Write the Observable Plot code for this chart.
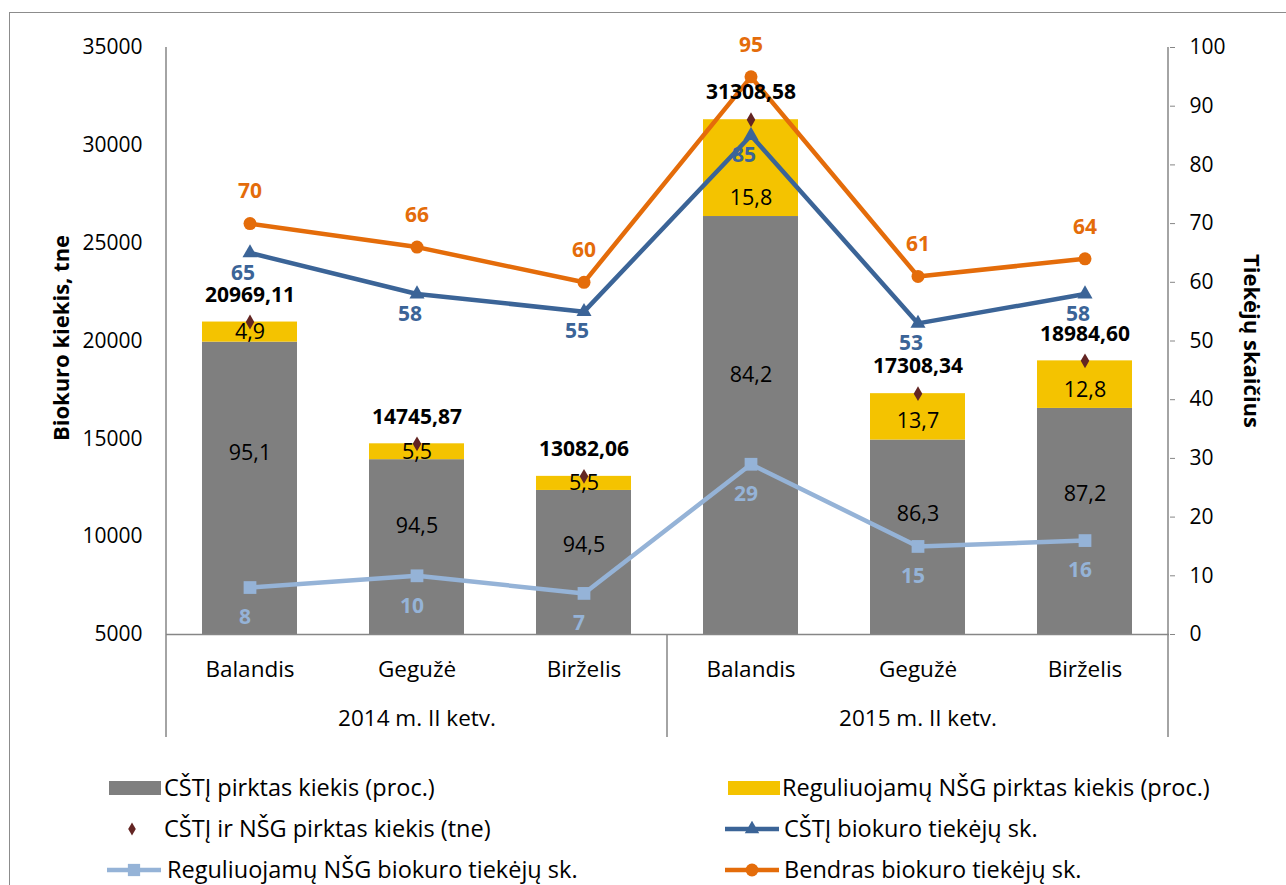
<!DOCTYPE html>
<html><head><meta charset="utf-8">
<script src="https://cdn.jsdelivr.net/npm/d3@7"></script>
<script src="https://cdn.jsdelivr.net/npm/@observablehq/plot@0.6"></script>
<style>
body{margin:0;background:#fff;overflow:hidden;font-family:"Open Sans",sans-serif;width:1286px;height:885px;}
#frame{position:absolute;left:9px;top:12px;width:1320px;height:920px;border:1.5px solid #8c8c8c;box-sizing:border-box;}
#chart{position:absolute;left:0;top:0;}
.lg{position:absolute;font-family:"Open Sans",sans-serif;font-size:23.5px;color:#000;white-space:nowrap;transform:translateY(-50%);line-height:1;}
.sw{position:absolute;transform:translateY(-50%);}
</style></head><body>
<div id="frame"></div><div id="chart"></div><div id="legend"></div>
<script>
// ---- data ----
const periods = ["2014","2014","2014","2015","2015","2015"];
const monthNames = ["Balandis","Gegužė","Birželis","Balandis","Gegužė","Birželis"];
const groupLabels = ["2014 m. II ketv.","2015 m. II ketv."];
const totalTne = [20969.11, 14745.87, 13082.06, 31308.58, 17308.34, 18984.60];
const cstiPct = [95.1, 94.5, 94.5, 84.2, 86.3, 87.2];
const nsgPct = [4.9, 5.5, 5.5, 15.8, 13.7, 12.8];
const cstiSuppliers = [65, 58, 55, 85, 53, 58];
const nsgSuppliers = [8, 10, 7, 29, 15, 16];
const totalSuppliers = [70, 66, 60, 95, 61, 64];
const leftTicks = [5000, 10000, 15000, 20000, 25000, 30000, 35000];
const rightTicks = [0, 10, 20, 30, 40, 50, 60, 70, 80, 90, 100];
const leftTitle = "Biokuro kiekis, tne";
const rightTitle = "Tiekėjų skaičius";
const legendLabels = ["CŠTĮ pirktas kiekis (proc.)","Reguliuojamų NŠG pirktas kiekis (proc.)","CŠTĮ ir NŠG pirktas kiekis (tne)","CŠTĮ biokuro tiekėjų sk.","Reguliuojamų NŠG biokuro tiekėjų sk.","Bendras biokuro tiekėjų sk."];

// ---- colours ----
const cGray = "#7f7f7f", cYellow = "#f4c300", cDiamond = "#632523",
      cBlue = "#3b6497", cLight = "#95b3d7", cOrange = "#e46c0a", cAxis = "#868686";

const keys = periods.map((p, i) => p + "|" + monthNames[i]);
const right = d3.scaleLinear().domain([0, 100]).range([5000, 35000]); // right axis → left units
const base = 5000;
const rows = keys.map((k, i) => ({
  key: k, month: monthNames[i], total: totalTne[i],
  gTop: totalTne[i] * cstiPct[i] / 100, cPct: cstiPct[i], nPct: nsgPct[i],
  cSup: cstiSuppliers[i], nSup: nsgSuppliers[i], tSup: totalSuppliers[i]
}));
const comma = (v, n) => v.toFixed(n).replace(".", ",");
const groups = groupLabels.map((g, i) => ({key: keys[i * 3 + 1], label: g}));

const chart = Plot.plot({
  width: 1286, height: 760,
  marginLeft: 166, marginRight: 117, marginTop: 47, marginBottom: 126,
  x: {type: "band", domain: keys, paddingInner: 0.43, paddingOuter: 0.215, axis: null},
  y: {domain: [5000, 35000], axis: null},
  style: {fontFamily: "'Open Sans', sans-serif", fontSize: "21px", background: "transparent", overflow: "visible"},
  marks: [
    Plot.barY(rows, {x: "key", y1: d => base, y2: "gTop", fill: cGray}),
    Plot.barY(rows, {x: "key", y1: "gTop", y2: "total", fill: cYellow}),
    Plot.ruleY([base], {stroke: cAxis, strokeWidth: 1.5}),
    Plot.axisY(leftTicks, {anchor: "left", tickSize: 0, tickPadding: 24, fontSize: 21, label: null, tickFormat: d => String(d)}),
    Plot.axisY(rightTicks.map(right), {anchor: "right", tickSize: 5, tickPadding: 15, fontSize: 21, stroke: cAxis,
      tickFormat: d => String(Math.round(right.invert(d))), label: null}),
    Plot.text([leftTitle], {frameAnchor: "left", textAnchor: "middle", lineAnchor: "middle", rotate: -90, dx: -105, dy: -3, fontWeight: "bold", fontSize: 22}),
    Plot.text([rightTitle], {frameAnchor: "right", textAnchor: "middle", lineAnchor: "middle", rotate: 90, dx: 82, fontWeight: "bold", fontSize: 22}),
    Plot.text(rows, {x: "key", text: "month", frameAnchor: "bottom", lineAnchor: "middle", dy: 35, fontSize: 22.5}),
    Plot.text(groups, {x: "key", text: "label", frameAnchor: "bottom", lineAnchor: "middle", dy: 84, fontSize: 22.5}),
    // lines
    Plot.line(rows, {x: "key", y: d => right(d.nSup), stroke: cLight, strokeWidth: 4.5}),
    Plot.dot(rows, {x: "key", y: d => right(d.nSup), symbol: "square", r: 7.2, fill: cLight}),
    Plot.line(rows, {x: "key", y: d => right(d.cSup), stroke: cBlue, strokeWidth: 4.5}),
    Plot.dot(rows, {x: "key", y: d => right(d.cSup), symbol: "triangle", r: 5.6, fill: cBlue}),
    Plot.line(rows, {x: "key", y: d => right(d.tSup), stroke: cOrange, strokeWidth: 4.5}),
    Plot.dot(rows, {x: "key", y: d => right(d.tSup), symbol: "circle", r: 6.5, fill: cOrange}),
    Plot.dot(rows, {x: "key", y: "total", symbol: "diamond", r: 4.5, fill: cDiamond}),
    // labels
    Plot.text(rows, {x: "key", y: d => base + 0.62 * (d.gTop - base), text: d => comma(d.cPct, 1), fontSize: 21.5}),
    Plot.text(rows, {x: "key", y: d => d.gTop + Math.min((d.total - d.gTop) / 2, 950), text: d => comma(d.nPct, 1), fontSize: 21.5}),
    Plot.text(rows, {x: "key", y: "total", text: d => comma(d.total, 2), dy: -27, fontWeight: "bold", fontSize: 21}),
    Plot.text(rows, {x: "key", y: d => right(d.tSup), text: "tSup", dy: -32, fill: cOrange, fontWeight: "bold", fontSize: 21}),
    Plot.text(rows, {x: "key", y: d => right(d.cSup), text: "cSup", dy: 20, dx: -7, fill: cBlue, fontWeight: "bold", fontSize: 21}),
    Plot.text(rows, {x: "key", y: d => right(d.nSup), text: "nSup", dy: 30, dx: -5, fill: cLight, fontWeight: "bold", fontSize: 21})
  ]
});
document.getElementById("chart").appendChild(chart);

// axis / separator lines from the Plot scales
const xs = chart.scale("x"), ys = chart.scale("y");
const outer = (xs.step - xs.bandwidth) / 2;
const xLeft = xs.apply(keys[0]) - outer;
const xMid = xs.apply(keys[3]) - outer;
const xRight = xs.apply(keys[5]) + xs.bandwidth + outer;
const yTop = ys.apply(35000), yBase = ys.apply(base), yBottom = yBase + 103;
const g = d3.select(chart).append("g").attr("stroke", cAxis).attr("stroke-width", 1.5);
[[xLeft, yTop], [xMid, yBase], [xRight, yTop]].forEach(([x, y0]) =>
  g.append("line").attr("x1", x).attr("x2", x).attr("y1", y0).attr("y2", yBottom));

// legend (HTML below the plot)
const legend = d3.select("#legend");
const items = [
  {type: "rect", color: cGray, sx: 109, tx: 164, y: 788},
  {type: "rect", color: cYellow, sx: 728, tx: 782, y: 788},
  {type: "diamond", color: cDiamond, sx: 126, tx: 164, y: 829},
  {type: "line", sym: d3.symbolTriangle, size: 90, color: cBlue, sx: 725, tx: 784, y: 829},
  {type: "line", sym: d3.symbolSquare, size: 150, color: cLight, sx: 107, tx: 167, y: 870},
  {type: "line", sym: d3.symbolCircle, size: 130, color: cOrange, sx: 725, tx: 784, y: 870}
];
items.forEach((it, i) => {
  const w = it.type === "diamond" ? 12 : 54;
  const s = legend.append("svg").attr("class", "sw").attr("width", w).attr("height", 16)
    .style("left", it.sx + "px").style("top", it.y + "px");
  if (it.type === "rect") s.append("rect").attr("width", w - 2).attr("height", 14).attr("y", 1).attr("fill", it.color);
  else if (it.type === "diamond") s.append("path").attr("d", d3.symbol(d3.symbolDiamond, 50)()).attr("transform", "translate(6,8)").attr("fill", it.color);
  else {
    s.append("line").attr("x1", 0).attr("x2", w).attr("y1", 8).attr("y2", 8).attr("stroke", it.color).attr("stroke-width", 4.5);
    s.append("path").attr("d", d3.symbol(it.sym, it.size)()).attr("transform", "translate(27,8)").attr("fill", it.color);
  }
  legend.append("div").attr("class", "lg").style("left", it.tx + "px").style("top", it.y + "px").text(legendLabels[i]);
});
</script>
</body></html>
